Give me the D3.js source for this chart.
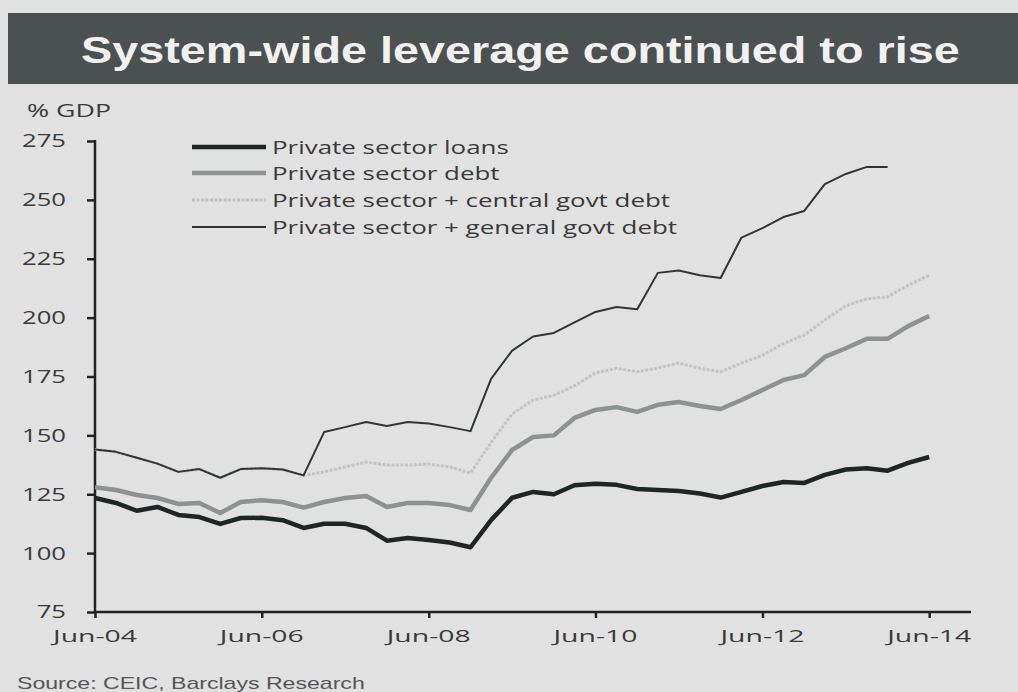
<!DOCTYPE html>
<html>
<head>
<meta charset="utf-8">
<script src="https://cdn.jsdelivr.net/npm/d3@7/dist/d3.min.js"></script>
<style>
  html, body { margin: 0; padding: 0; background: #e1e1e1; }
  svg { display: block; }
</style>
</head>
<body>
<svg id="chart" width="1018" height="692"></svg>
<script>
// Quarter-end months, Jun-04 to Jun-14
const quarters = [
  "2004-06","2004-09","2004-12","2005-03","2005-06","2005-09","2005-12","2006-03",
  "2006-06","2006-09","2006-12","2007-03","2007-06","2007-09","2007-12","2008-03",
  "2008-06","2008-09","2008-12","2009-03","2009-06","2009-09","2009-12","2010-03",
  "2010-06","2010-09","2010-12","2011-03","2011-06","2011-09","2011-12","2012-03",
  "2012-06","2012-09","2012-12","2013-03","2013-06","2013-09","2013-12","2014-03",
  "2014-06"
];

// % of GDP
const privateLoans = [
  123.4,121.3,118.0,119.6,116.2,115.3,112.4,114.9,115.0,114.0,110.7,112.5,
  112.5,110.7,105.3,106.4,105.6,104.5,102.5,114.0,123.5,126.0,125.0,128.8,
  129.5,129.0,127.2,126.8,126.4,125.3,123.6,126.0,128.5,130.2,129.8,133.2,
  135.5,136.0,135.0,138.3,140.8
];
const privateDebt = [
  128.0,126.8,124.7,123.4,120.9,121.3,117.0,121.7,122.5,121.7,119.3,121.7,
  123.4,124.3,119.6,121.3,121.3,120.4,118.3,132.0,143.8,149.3,150.0,157.4,
  160.8,162.0,160.0,163.0,164.2,162.5,161.2,165.0,169.3,173.5,175.6,183.3,
  187.0,191.0,191.0,196.4,200.7
];
const plusCentralGovt = [
  144.0,143.0,140.5,138.0,134.5,135.7,132.0,135.7,136.0,135.5,133.0,134.5,
  136.6,138.7,137.4,137.4,137.8,136.6,134.0,147.0,159.0,165.0,167.0,171.0,
  176.5,178.5,177.0,178.6,180.7,178.5,177.0,180.7,184.0,189.0,192.6,199.0,
  205.0,208.0,208.8,213.8,218.0
];
// runs to Dec-13
const plusGeneralGovt = [
  144.0,143.0,140.5,138.0,134.5,135.7,132.0,135.7,136.0,135.5,133.0,151.4,
  153.5,155.7,154.0,155.7,155.0,153.5,151.8,174.0,186.0,192.0,193.5,198.0,
  202.4,204.5,203.6,219.0,220.0,218.0,216.8,234.0,238.0,242.7,245.3,256.7,
  261.0,264.0,264.0
];

const seriesNames = [
  "Private sector loans",
  "Private sector debt",
  "Private sector + central govt debt",
  "Private sector + general govt debt"
];
const yTicks = [75, 100, 125, 150, 175, 200, 225, 250, 275];
const xTicks = ["2004-06","2006-06","2008-06","2010-06","2012-06","2014-06"];
const xDomain = ["2004-06","2014-12"];

const parseQ = d3.timeParse("%Y-%m");
const fmtTick = d3.timeFormat("Jun-%y");

const svg = d3.select("#chart");
const W = 1018, H = 692;
const plot = { left: 95, right: 971, top: 141, bottom: 612 };

const x = d3.scaleTime().domain(xDomain.map(parseQ)).range([plot.left, plot.right]);
const y = d3.scaleLinear().domain([75, 275]).range([plot.bottom, plot.top]);

// stretch text horizontally so it fills a given width
function fitWidth(sel, width) {
  const w = sel.node().getComputedTextLength();
  return width / w;
}

// background
svg.append("rect").attr("width", W).attr("height", H).attr("fill", "#e1e1e1");

// title band
svg.append("rect").attr("x", 8).attr("y", 13).attr("width", W - 8).attr("height", 71)
  .attr("fill", "#4b5050");
const title = svg.append("text")
  .attr("font-family", "Liberation Sans, Arial, sans-serif")
  .attr("font-weight", "bold").attr("font-size", 37).attr("fill", "#f1f1f1")
  .text("System-wide leverage continued to rise");
{
  const s = fitWidth(title, 879);
  title.attr("transform", `translate(81,63) scale(${s},1)`);
}

const labelFont = "Open Sans, Noto Sans, sans-serif";
const textColor = "#3a3a3a";

// unit label
const unit = svg.append("text").attr("font-family", labelFont).attr("font-size", 19)
  .attr("fill", textColor).text("% GDP");
unit.attr("transform", `translate(27,117) scale(${fitWidth(unit, 84)},1)`);

// axes
const yAxis = d3.axisLeft(y).tickValues(yTicks).tickSize(8).tickFormat("");
const gy = svg.append("g").attr("transform", `translate(${plot.left},0)`).call(yAxis);
gy.select(".domain").remove();
gy.selectAll(".tick line").attr("stroke", "#222").attr("stroke-width", 2.5);
gy.append("line").attr("x1", 0).attr("x2", 0)
  .attr("y1", plot.top - 1).attr("y2", plot.bottom)
  .attr("stroke", "#222").attr("stroke-width", 2.5);

const xAxis = d3.axisBottom(x).tickValues(xTicks.map(parseQ)).tickSize(6).tickFormat("");
const gx = svg.append("g").attr("transform", `translate(0,${plot.bottom})`).call(xAxis);
gx.select(".domain").remove();
gx.selectAll(".tick line").attr("stroke", "#222").attr("stroke-width", 2.5);
gx.append("line").attr("x1", plot.left - 1).attr("x2", plot.right)
  .attr("y1", 0).attr("y2", 0).attr("stroke", "#222").attr("stroke-width", 2.5);

// y tick labels
const probeY = svg.append("text").attr("font-family", labelFont).attr("font-size", 18).text("275");
const sY = fitWidth(probeY, 44);
probeY.remove();
svg.append("g").selectAll("text").data(yTicks).join("text")
  .attr("font-family", labelFont).attr("font-size", 18).attr("fill", textColor)
  .attr("text-anchor", "end").attr("dy", "0.36em")
  .attr("transform", d => `translate(66,${y(d)}) scale(${sY},1)`)
  .text(d => d);

// x tick labels
const probeX = svg.append("text").attr("font-family", labelFont).attr("font-size", 17).text("Jun-04");
const sX = fitWidth(probeX, 84);
probeX.remove();
svg.append("g").selectAll("text").data(xTicks).join("text")
  .attr("font-family", labelFont).attr("font-size", 17).attr("fill", textColor)
  .attr("text-anchor", "middle")
  .attr("transform", d => `translate(${x(parseQ(d))},642) scale(${sX},1)`)
  .text(d => fmtTick(parseQ(d)));

// series
const styles = [
  { color: "#1f2525", width: 4.5, dash: null },
  { color: "#8e9191", width: 4.5, dash: null },
  { color: "#c2c4c4", width: 3, dash: "3,1.5" },
  { color: "#2f3535", width: 2, dash: null }
];
const seriesData = [privateLoans, privateDebt, plusCentralGovt, plusGeneralGovt];
const line = d3.line().x((d, i) => x(parseQ(quarters[i]))).y(d => y(d));

// draw light lines first so the darker ones sit on top
const drawOrder = [2, 1, 0, 3];
drawOrder.forEach(k => {
  svg.append("path").datum(seriesData[k])
    .attr("fill", "none")
    .attr("stroke", styles[k].color)
    .attr("stroke-width", styles[k].width)
    .attr("stroke-linejoin", "round")
    .attr("stroke-dasharray", styles[k].dash)
    .attr("d", line);
});

// legend
const legend = svg.append("g");
const legendY = [147, 173, 200, 227];
const probeL = svg.append("text").attr("font-family", labelFont).attr("font-size", 19).text(seriesNames[0]);
const sL = fitWidth(probeL, 237);
probeL.remove();
seriesNames.forEach((name, k) => {
  legend.append("line").attr("x1", 192).attr("x2", 266)
    .attr("y1", legendY[k]).attr("y2", legendY[k])
    .attr("stroke", styles[k].color).attr("stroke-width", styles[k].width)
    .attr("stroke-dasharray", styles[k].dash);
  legend.append("text").attr("font-family", labelFont).attr("font-size", 19)
    .attr("fill", textColor).attr("dy", "0.36em")
    .attr("transform", `translate(272,${legendY[k]}) scale(${sL},1)`)
    .text(name);
});

// source note
const src = svg.append("text")
  .attr("font-family", "Liberation Sans, Arial, sans-serif")
  .attr("font-size", 16).attr("fill", "#555")
  .text("Source: CEIC, Barclays Research");
src.attr("transform", `translate(17,689) scale(${fitWidth(src, 348)},1)`);
</script>
</body>
</html>
